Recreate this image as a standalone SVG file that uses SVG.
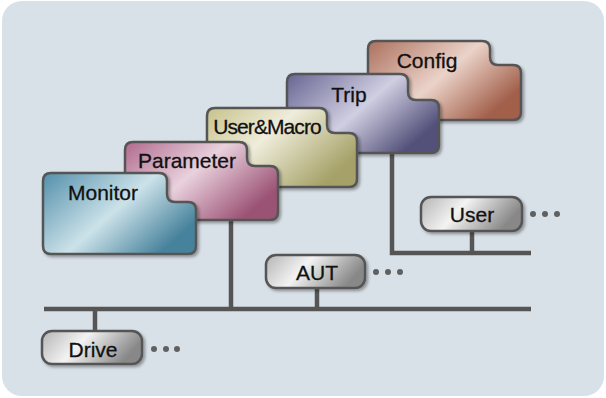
<svg xmlns="http://www.w3.org/2000/svg" width="606" height="398" viewBox="0 0 606 398">
<defs>
<style>
.fold{stroke:#555;stroke-width:2.5;filter:url(#sh)}
.box{stroke:#555;stroke-width:2.5;fill:url(#gGray);filter:url(#sh)}
.ln{stroke:#555;stroke-width:4.5;fill:none;stroke-linecap:butt}
.t{font-family:"Liberation Sans",Arial,sans-serif;font-size:21px;fill:#111;stroke:#111;stroke-width:0.3;text-anchor:middle}
.dot{fill:#606060}
</style>
<filter id="sh" x="-10%" y="-10%" width="125%" height="130%">
<feDropShadow dx="2" dy="2" stdDeviation="1.8" flood-color="#000" flood-opacity="0.35"/>
</filter>
<linearGradient id="gConfig" x1="0" y1="0" x2="1" y2="0.6">
<stop offset="0" stop-color="#ac705d"/><stop offset="0.55" stop-color="#ebd3c9"/><stop offset="1" stop-color="#a25f4a"/>
</linearGradient>
<linearGradient id="gTrip" x1="0" y1="0" x2="1" y2="0.6">
<stop offset="0" stop-color="#676592"/><stop offset="0.55" stop-color="#d0cee1"/><stop offset="1" stop-color="#53517a"/>
</linearGradient>
<linearGradient id="gUM" x1="0" y1="0" x2="1" y2="0.6">
<stop offset="0" stop-color="#c6c28b"/><stop offset="0.45" stop-color="#efeddb"/><stop offset="1" stop-color="#a5a167"/>
</linearGradient>
<linearGradient id="gPar" x1="0" y1="0" x2="1" y2="0.6">
<stop offset="0" stop-color="#b06a8d"/><stop offset="0.5" stop-color="#e9d1dd"/><stop offset="1" stop-color="#9b5275"/>
</linearGradient>
<linearGradient id="gMon" x1="0" y1="0" x2="1" y2="0.6">
<stop offset="0" stop-color="#538fab"/><stop offset="0.55" stop-color="#cce2e9"/><stop offset="1" stop-color="#46829c"/>
</linearGradient>
<linearGradient id="gGray" x1="0" y1="0" x2="1" y2="0.3">
<stop offset="0" stop-color="#b4b4b4"/><stop offset="0.45" stop-color="#f3f3f3"/><stop offset="1" stop-color="#888888"/>
</linearGradient>
</defs>
<rect x="0" y="0" width="606" height="398" fill="#ffffff"/>
<rect x="2" y="1" width="602" height="395" rx="20" fill="#d9e1e8"/>

<g id="connectors">
<path class="ln" d="M44,309 H531"/>
<path class="ln" d="M231,220 V309"/>
<path class="ln" d="M392,153 V253 H531"/>
<path class="ln" d="M472,231 V253"/>
<path class="ln" d="M317,288 V309"/>
<path class="ln" d="M95,309 V331"/>
</g>

<g id="config">
<path class="fold" fill="url(#gConfig)" d="M376,41 H482 Q490,41 490,49 V57 Q490,65 498,65 H513 Q521,65 521,73 V112 Q521,120 513,120 H376 Q368,120 368,112 V49 Q368,41 376,41 Z"/>
<text class="t" x="427" y="68">Config</text>
</g>
<g id="trip">
<path class="fold" fill="url(#gTrip)" d="M295,74 H400 Q408,74 408,82 V92 Q408,100 416,100 H431 Q439,100 439,108 V145 Q439,153 431,153 H295 Q287,153 287,145 V82 Q287,74 295,74 Z"/>
<text class="t" x="349" y="102">Trip</text>
</g>
<g id="usermacro">
<path class="fold" fill="url(#gUM)" d="M215,108 H319 Q327,108 327,116 V125 Q327,133 335,133 H349 Q357,133 357,141 V179 Q357,187 349,187 H215 Q207,187 207,179 V116 Q207,108 215,108 Z"/>
<text class="t" x="267" y="134" style="letter-spacing:-0.9px">User&amp;Macro</text>
</g>
<g id="parameter">
<path class="fold" fill="url(#gPar)" d="M133,142 H239 Q247,142 247,150 V158 Q247,166 255,166 H270 Q278,166 278,174 V212 Q278,220 270,220 H133 Q125,220 125,212 V150 Q125,142 133,142 Z"/>
<text class="t" x="187" y="168">Parameter</text>
</g>
<g id="monitor">
<path class="fold" fill="url(#gMon)" d="M51,173 H159 Q167,173 167,181 V194 Q167,202 175,202 H188 Q196,202 196,210 V246 Q196,254 188,254 H51 Q43,254 43,246 V181 Q43,173 51,173 Z"/>
<text class="t" x="103" y="200">Monitor</text>
</g>

<g id="user">
<rect class="box" x="421" y="197" width="101" height="34" rx="10"/>
<text class="t" x="472" y="222">User</text>
<circle class="dot" cx="533" cy="214" r="3"/><circle class="dot" cx="545" cy="214" r="3"/><circle class="dot" cx="557" cy="214" r="3"/>
</g>
<g id="aut">
<rect class="box" x="266" y="255" width="99" height="33" rx="10"/>
<text class="t" x="317" y="280">AUT</text>
<circle class="dot" cx="376" cy="272" r="3"/><circle class="dot" cx="388" cy="272" r="3"/><circle class="dot" cx="400" cy="272" r="3"/>
</g>
<g id="drive">
<rect class="box" x="42" y="331" width="100" height="33" rx="10"/>
<text class="t" x="93" y="357">Drive</text>
<circle class="dot" cx="154" cy="349" r="3"/><circle class="dot" cx="166" cy="349" r="3"/><circle class="dot" cx="177" cy="349" r="3"/>
</g>
</svg>
